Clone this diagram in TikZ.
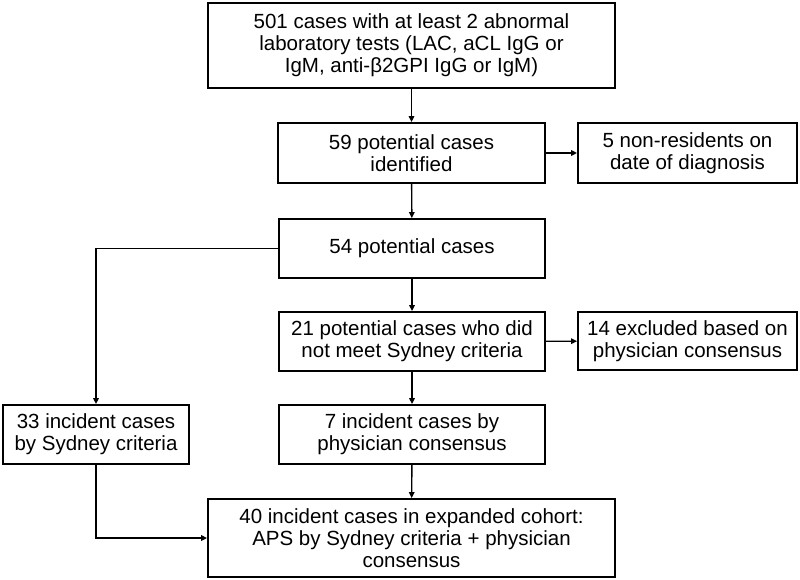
\documentclass[tikz,border=0pt]{standalone}
\usepackage{fontspec}
\setmainfont{Liberation Sans}
\usetikzlibrary{arrows.meta}
\begin{document}
\begin{tikzpicture}[x=1pt,y=-1pt,
  box/.style={draw=black,line width=1.8pt,rectangle,inner sep=0pt,align=center,
    font=\fontsize{20.5}{22}\selectfont},
  conn/.style={line width=1.4pt,-{Triangle[length=6pt,width=5.5pt]}}]
\useasboundingbox[fill=white] (0,0) rectangle (800,580);
\node[box,minimum width=407pt,minimum height=85pt] (b1) at (411.5,45.5)
  {501 cases with at least 2 abnormal\\laboratory tests (LAC, aCL IgG or\\IgM, anti-β2GPI IgG or IgM)};
\node[box,minimum width=267pt,minimum height=60pt] (b2) at (411.5,153)
  {59 potential cases\\identified};
\node[box,minimum width=219pt,minimum height=60pt] (b3) at (687.5,153)
  {5 non-residents on\\date of diagnosis};
\node[box,minimum width=266pt,minimum height=59pt] (b4) at (412,248.5)
  {54 potential cases};
\node[box,minimum width=266pt,minimum height=59pt] (b5) at (412,341.5)
  {21 potential cases who did\\not meet Sydney criteria};
\node[box,minimum width=219pt,minimum height=58pt] (b6) at (687.5,341)
  {14 excluded based on\\physician consensus};
\node[box,minimum width=186pt,minimum height=59pt] (b7) at (96,434.5)
  {33 incident cases\\by Sydney criteria};
\node[box,minimum width=266pt,minimum height=59pt] (b8) at (412,434.5)
  {7 incident cases by\\physician consensus};
\node[box,minimum width=407pt,minimum height=78pt] (b9) at (411.5,538)
  {40 incident cases in expanded cohort:\\APS by Sydney criteria + physician\\consensus};
\draw[conn] (b1) -- (b2);
\draw[conn] (b2) -- (b3);
\draw[conn] (b2) -- (b4);
\draw[conn] (b4.west) -| (b7.north);
\draw[conn] (b4) -- (b5);
\draw[conn] (b5) -- (b6);
\draw[conn] (b5) -- (b8);
\draw[conn] (b8) -- (b9);
\draw[conn] (b7.south) |- (b9.west);
\end{tikzpicture}
\end{document}
